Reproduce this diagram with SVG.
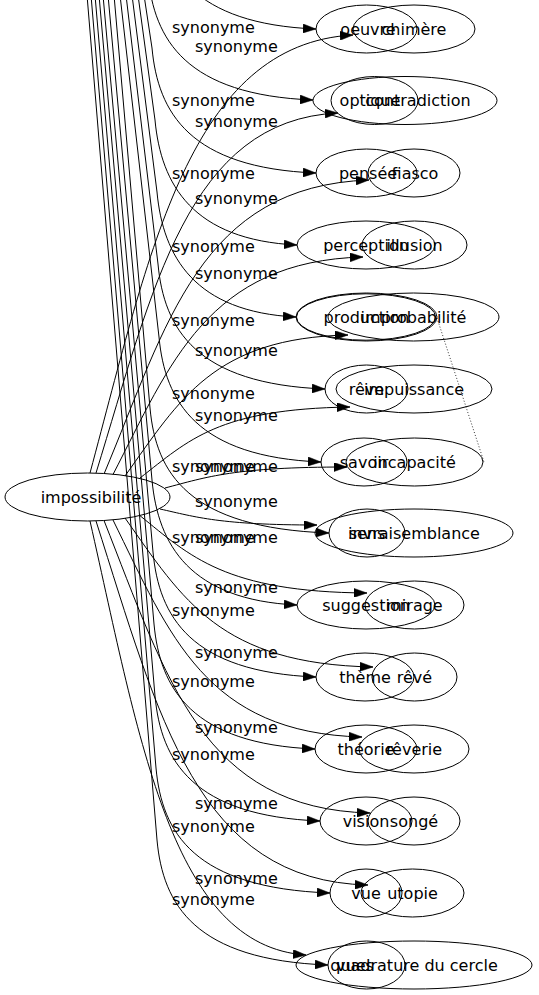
<svg xmlns="http://www.w3.org/2000/svg" width="539" height="995" viewBox="0 0 539 995">
<style>
.n ellipse{fill:none;stroke:#000;stroke-width:1}
.n text{font-family:"DejaVu Sans","Liberation Sans",sans-serif;font-size:16px;text-anchor:middle;fill:#000}
.e path{fill:none;stroke:#000;stroke-width:1;marker-end:url(#ah)}
.lb text{font-family:"DejaVu Sans","Liberation Sans",sans-serif;font-size:16px;fill:#000}
</style>
<defs>
<marker id="ah" viewBox="0 0 13 9" refX="13" refY="4.5" markerWidth="13" markerHeight="9" markerUnits="userSpaceOnUse" orient="auto">
<path d="M0,0 L13,4.5 L0,9 z" fill="#000" stroke="#000" stroke-width="0.5"/>
</marker>
</defs>
<rect width="539" height="995" fill="#fff"/>

<g id="edges" class="e">
<path d="M155,-96 C161,-31 193,24 316,29"/>
<path d="M148,-25 C154,40 186,95 313,100"/>
<path d="M144,-5 L152,48 C158,113 190,168 316,173"/>
<path d="M138,-5 L155,120 C161,185 193,240 297,245"/>
<path d="M132,-5 L157,192 C163,257 195,312 296,317"/>
<path d="M126,-5 L158,264 C164,329 196,384 325,389"/>
<path d="M120,-5 L159,337 C165,402 197,457 321,462"/>
<path d="M114,-5 L150,408 C156,473 188,528 329,533"/>
<path d="M108,-5 L152,480 C158,545 190,600 297,605"/>
<path d="M103,-5 L153,552 C159,617 191,672 316,677"/>
<path d="M99,-5 L154,624 C160,689 192,744 315,749"/>
<path d="M95,-5 L155,696 C161,761 193,816 320,821"/>
<path d="M91,-5 L156,768 C162,833 194,888 330,893"/>
<path d="M87,-5 L157,840 C163,905 195,960 328,965"/>
<path d="M90,473 C150,250 190,44 353,35"/>
<path d="M96,473 C153,288 188,120 338,113"/>
<path d="M104,474 C167,324 200,186 369,180"/>
<path d="M113,474.5 C170,364 208,261 363,257"/>
<path d="M125,476 C180,399 214,338 348,335"/>
<path d="M140,478 C189,440 218,409 350,407"/>
<path d="M165,488 C207,477 234,467 347,467"/>
<path d="M160,509 C196,517 220,525 317,525"/>
<path d="M140,515.7 C190,556 225,592 367,593"/>
<path d="M125,518 C183,600 220,664 373,667"/>
<path d="M113,520 C170,636 206,733 362,737"/>
<path d="M104,520.5 C167,680 203,809 370,813"/>
<path d="M96,521 C159,718 197,881 368,885"/>
<path d="M90,521 C140,742 172,946 306,955"/>
<path d="M437,318 L484,462" style="marker-end:none;stroke-width:0.8;stroke-dasharray:1,2"/>
</g>

<g id="labels" class="lb">
<text x="172" y="33">synonyme</text>
<text x="172" y="106">synonyme</text>
<text x="172" y="179">synonyme</text>
<text x="172" y="252">synonyme</text>
<text x="172" y="326">synonyme</text>
<text x="172" y="399">synonyme</text>
<text x="172" y="472">synonyme</text>
<text x="172" y="543">synonyme</text>
<text x="172" y="616">synonyme</text>
<text x="172" y="687">synonyme</text>
<text x="172" y="760">synonyme</text>
<text x="172" y="832">synonyme</text>
<text x="172" y="905">synonyme</text>
<text x="195" y="52">synonyme</text>
<text x="195" y="127">synonyme</text>
<text x="195" y="204">synonyme</text>
<text x="195" y="279">synonyme</text>
<text x="195" y="356">synonyme</text>
<text x="195" y="421">synonyme</text>
<text x="195" y="472">synonyme</text>
<text x="195" y="507">synonyme</text>
<text x="195" y="543">synonyme</text>
<text x="195" y="593">synonyme</text>
<text x="195" y="658">synonyme</text>
<text x="195" y="733">synonyme</text>
<text x="195" y="809">synonyme</text>
<text x="195" y="884">synonyme</text>
</g>

<g id="impossibilite" class="n"><ellipse cx="87.5" cy="497" rx="82.5" ry="24"/><text x="91" y="502.5">impossibilité</text></g>

<g id="oeuvre" class="n"><ellipse cx="366.5" cy="29" rx="50.5" ry="24"/><text x="368" y="34.5">oeuvre</text></g>
<g id="chimere" class="n"><ellipse cx="414" cy="29" rx="61" ry="24"/><text x="414" y="34.5">chimère</text></g>

<g id="optique" class="n"><ellipse cx="374.5" cy="100.5" rx="43.5" ry="24"/><text x="370" y="106">optique</text></g>
<g id="contradiction" class="n"><ellipse cx="405" cy="100.5" rx="92" ry="24"/><text x="418" y="106">contradiction</text></g>

<g id="pensee" class="n"><ellipse cx="366.5" cy="173" rx="50.5" ry="24"/><text x="368" y="178.5">pensée</text></g>
<g id="fiasco" class="n"><ellipse cx="414" cy="173" rx="46" ry="24"/><text x="415" y="178.5">fiasco</text></g>

<g id="perception" class="n"><ellipse cx="366" cy="245" rx="69" ry="24"/><text x="366" y="250.5">perception</text></g>
<g id="illusion" class="n"><ellipse cx="414.5" cy="245" rx="52.5" ry="24"/><text x="414.5" y="250.5">illusion</text></g>

<g id="production" class="n"><ellipse cx="366.5" cy="317" rx="70.5" ry="24"/><ellipse cx="366" cy="317" rx="69.5" ry="23.2"/><text x="366.5" y="322.5">production</text></g>
<g id="improbabilite" class="n"><ellipse cx="413.5" cy="317" rx="85.5" ry="24"/><text x="413.5" y="322.5">improbabilité</text></g>

<g id="reve" class="n"><ellipse cx="366.5" cy="389" rx="41.5" ry="24"/><text x="366.5" y="394.5">rêve</text></g>
<g id="impuissance" class="n"><ellipse cx="414" cy="389" rx="78" ry="24"/><text x="414" y="394.5">impuissance</text></g>

<g id="savoir" class="n"><ellipse cx="364" cy="462" rx="43" ry="24"/><text x="364" y="467.5">savoir</text></g>
<g id="incapacite" class="n"><ellipse cx="414.5" cy="462" rx="68.5" ry="24"/><text x="414.5" y="467.5">incapacité</text></g>

<g id="sens" class="n"><ellipse cx="367" cy="533" rx="38" ry="24"/><text x="367" y="538.5">sens</text></g>
<g id="invraisemblance" class="n"><ellipse cx="414" cy="533" rx="99" ry="24"/><text x="414" y="538.5">invraisemblance</text></g>

<g id="suggestion" class="n"><ellipse cx="366" cy="605" rx="69" ry="24"/><text x="366" y="610.5">suggestion</text></g>
<g id="mirage" class="n"><ellipse cx="414.5" cy="605" rx="49.5" ry="24"/><text x="414.5" y="610.5">mirage</text></g>

<g id="theme" class="n"><ellipse cx="365" cy="677" rx="49" ry="24"/><text x="365" y="682.5">thème</text></g>
<g id="reve2" class="n"><ellipse cx="414.5" cy="677" rx="42.5" ry="24"/><text x="414.5" y="682.5">rêvé</text></g>

<g id="theorie" class="n"><ellipse cx="366" cy="749" rx="51" ry="24"/><text x="366" y="754.5">théorie</text></g>
<g id="reverie" class="n"><ellipse cx="414" cy="749" rx="55" ry="24"/><text x="414" y="754.5">rêverie</text></g>

<g id="vision" class="n"><ellipse cx="366" cy="821" rx="46" ry="24"/><text x="366" y="826.5">vision</text></g>
<g id="songe" class="n"><ellipse cx="414" cy="821" rx="46" ry="24"/><text x="414" y="826.5">songé</text></g>

<g id="vue" class="n"><ellipse cx="366" cy="893" rx="36" ry="24"/><text x="366" y="898.5">vue</text></g>
<g id="utopie" class="n"><ellipse cx="412.5" cy="893" rx="51.5" ry="24"/><text x="412.5" y="898.5">utopie</text></g>

<g id="vues" class="n"><ellipse cx="366.5" cy="965" rx="38.5" ry="24"/><text x="355" y="970.5">vues</text></g>
<g id="quadrature" class="n"><ellipse cx="414" cy="965" rx="118" ry="24"/><text x="414" y="970.5">quadrature du cercle</text></g>
</svg>
